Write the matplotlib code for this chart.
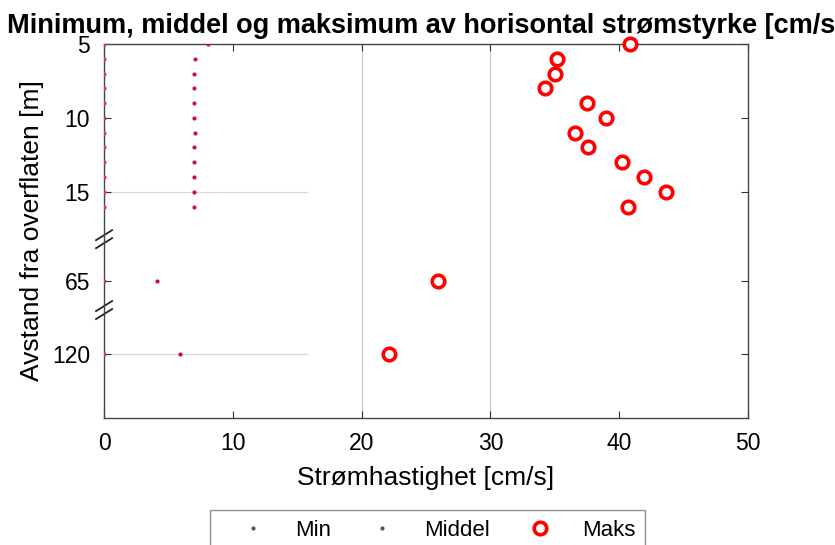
import numpy as np
import matplotlib
matplotlib.use("Agg")
import matplotlib.pyplot as plt

# depths [m] and current speeds [cm/s]
depth = [5, 6, 7, 8, 9, 10, 11, 12, 13, 14, 15, 16, 65, 120]
v_min = [0, 0, 0, 0, 0, 0, 0, 0, 0, 0, 0, 0, 0, 0]
v_mid = [8.1, 7.1, 7.0, 7.0, 7.0, 7.0, 7.1, 7.0, 7.0, 7.0, 7.0, 7.0, 4.1, 5.9]
v_max = [40.8, 35.2, 35.0, 34.2, 37.5, 39.0, 36.6, 37.6, 40.2, 41.9, 43.6, 40.7, 25.9, 22.1]

yticks = [5, 10, 15, 65, 120]
xticks = [0, 10, 20, 30, 40, 50]

# broken depth axis: piecewise linear scale
d_knots = [0, 16, 65, 120, 163]
p_knots = [0, 16, 21, 26, 30.3]


def fwd(d):
    return np.interp(d, d_knots, p_knots)


def inv(p):
    return np.interp(p, p_knots, d_knots)


plt.rcParams["font.family"] = ["Liberation Sans", "DejaVu Sans"]

fig = plt.figure(figsize=(8.35, 5.45), dpi=100)
ax = fig.add_axes([0.1246, 0.2330, 0.7712, 0.6863])
ax.set_yscale("function", functions=(fwd, inv))

ax.plot(v_min, depth, ls="none", marker="o", ms=2.0, color="#e8305a", label="Min", zorder=3)
ax.plot(v_mid, depth, ls="none", marker="o", ms=2.0, color="#c8103c", label="Middel", zorder=3)
ax.plot(v_max, depth, ls="none", marker="o", ms=9, mew=2.6, mfc="white", mec="#ff0000",
        label="Maks", zorder=4, clip_on=False)

# faint grid pieces
for xv in [20, 30]:
    ax.axvline(xv, color="#c8c8c8", lw=0.9, zorder=1)
ax.hlines([15, 120], 0, 15.8, color="#d8d8d8", lw=0.9, zorder=1)

ax.set_xlim(0, 50)
ax.set_ylim(163, 5)
ax.set_xticks(xticks)
ax.set_yticks(yticks)
ax.set_yticklabels([str(t) for t in yticks])
ax.tick_params(direction="in", top=True, right=True, labelsize=16.5, length=5,
               width=0.8, color="#333333", pad=10)
for s in ax.spines.values():
    s.set_color("#444444")
    s.set_linewidth(1.0)

ax.set_xlabel("Strømhastighet [cm/s]", fontsize=19, labelpad=8)
ax.set_ylabel("Avstand fra overflaten [m]", fontsize=19, labelpad=6)
ax.set_title("Minimum, middel og maksimum av horisontal strømstyrke [cm/s]",
             fontsize=19.5, fontweight="bold", pad=8)

# axis break marks
px, py = 1 / 644, 1 / 374
for d_break in [37.6, 87.0]:
    yb = 1 - (fwd(d_break) - 5) / (30.3 - 5)
    for off in (-4, 4):
        ax.plot([-8 * px, 8 * px], [yb + (off - 5) * py, yb + (off + 5) * py],
                transform=ax.transAxes, color="#222222", lw=1.3, clip_on=False)

leg = fig.legend(loc="upper left", bbox_to_anchor=(210 / 835, 1 - 510 / 545), ncol=3,
                 frameon=True, fontsize=16, handlelength=3.0, handletextpad=0.4,
                 columnspacing=0.75, borderpad=0.45, borderaxespad=0, fancybox=False,
                 edgecolor="#777777")
for h in leg.legend_handles[:2]:
    h.set_color("#555555")

fig.savefig("out.png", dpi=100)
